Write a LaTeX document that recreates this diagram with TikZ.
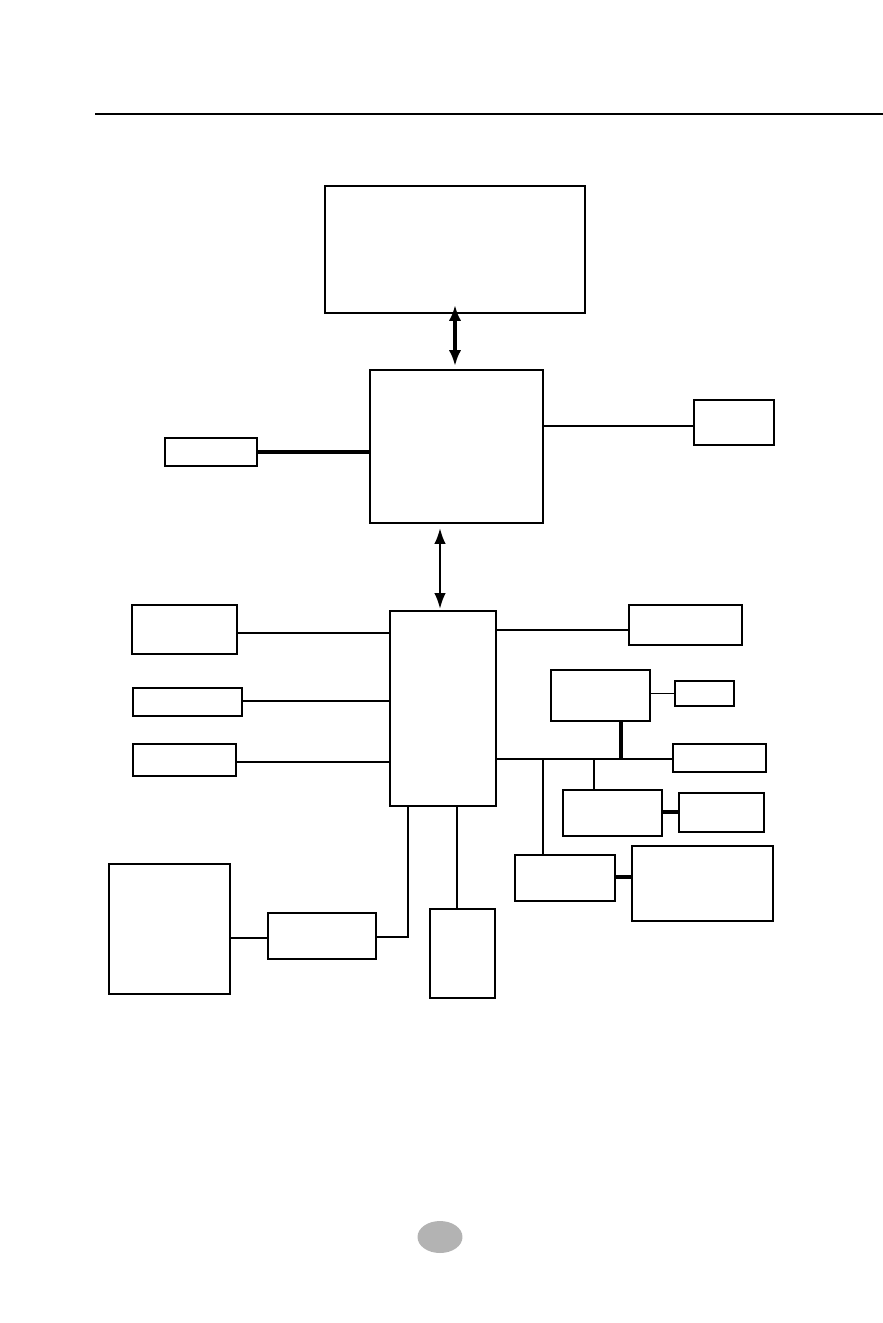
\documentclass[tikz,border=0pt]{standalone}
\usetikzlibrary{arrows.meta,fit,shapes.geometric}
\definecolor{markgrey}{RGB}{179,179,179}
\tikzset{
  box/.style={draw=black, line width=1.6pt, inner sep=0pt, outer sep=0pt},
  wire/.style={draw=black, line width=1.1pt},
  thickwire/.style={draw=black, line width=1.9pt},
  busarrow/.style={draw=black, line width=2pt, {Latex[length=9pt,width=7pt]}-{Latex[length=9pt,width=7pt]}},
  busarrowthin/.style={draw=black, line width=1.3pt, {Latex[length=9pt,width=6.5pt]}-{Latex[length=9pt,width=6.5pt]}}
}
\newcommand{\bx}[5]{\node[box, fit={(#2,#3) (#4,#5)}] (#1) {};}
\begin{document}
\begin{tikzpicture}[x=0.02cm,y=-0.02cm]
\useasboundingbox (0,0) rectangle (883,1323);
\fill[white] (0,0) rectangle (883,1323);
% header rule
\coordinate (ruleL) at (95,114);
\coordinate (ruleR) at (883,114);
\draw[line width=1.4pt] (ruleL) -- (ruleR);
% boxes
\bx{cpu}{325}{186}{585}{313}
\bx{nb}{370}{370}{543}{523}
\bx{nbl}{165}{438}{257}{466}
\bx{nbr}{694}{400}{774}{445}
\bx{sb}{390}{611}{496}{806}
\bx{la}{132}{605}{237}{654}
\bx{lb}{133}{688}{242}{716}
\bx{lc}{133}{744}{236}{776}
\bx{ra}{629}{605}{742}{645}
\bx{rb}{551}{670}{650}{721}
\bx{rbs}{675}{681}{734}{706}
\bx{rc}{673}{744}{766}{772}
\bx{rd}{563}{790}{662}{836}
\bx{rds}{679}{793}{764}{832}
\bx{re}{515}{855}{615}{901}
\bx{rf}{632}{846}{773}{921}
\bx{ba}{268}{913}{376}{959}
\bx{big}{109}{864}{230}{994}
\bx{bb}{430}{909}{495}{998}
% arrows
\coordinate (a1) at (455,305);
\coordinate (a2) at (455,366);
\draw[busarrow] (a1) -- (a2);
\coordinate (b1) at (440,528);
\coordinate (b2) at (440,609);
\draw[busarrowthin] (b1) -- (b2);
% NB connectors
\draw[thickwire] (nbl.east) -- (nbl.east -| nb.west);
\draw[wire] (nb.east |- 0,426) -- (nbr.west |- 0,426);
% SB left
\draw[wire] (la.east |- 0,633) -- (sb.west |- 0,633);
\draw[wire] (lb.east |- 0,701) -- (sb.west |- 0,701);
\draw[wire] (lc.east |- 0,762) -- (sb.west |- 0,762);
% SB right
\draw[wire] (sb.east |- 0,630) -- (ra.west |- 0,630);
\draw[wire] (rb.east |- rbs.west) -- (rbs.west);
\draw[wire] (sb.east |- 0,759) -- (rc.west |- 0,759);
\coordinate (busA) at (621,759);
\coordinate (busB) at (594,759);
\coordinate (busC) at (543,759);
\draw[thickwire] (rb.south -| busA) -- (busA);
\draw[wire] (busB) -- (rd.north -| busB);
\draw[wire] (busC) -- (re.north -| busC);
\draw[thickwire] (rd.east |- 0,812) -- (rds.west |- 0,812);
\draw[thickwire] (re.east |- 0,877) -- (rf.west |- 0,877);
% SB bottom
\coordinate (d1) at (408,937);
\draw[wire] (sb.south -| d1) -- (d1) -- (ba.east |- d1);
\draw[wire] (big.east |- 0,938) -- (ba.west |- 0,938);
\coordinate (d2) at (457,909);
\draw[wire] (sb.south -| d2) -- (bb.north -| d2);
% page marker
\node[ellipse, fill=markgrey, minimum width=0.9cm, minimum height=0.64cm, inner sep=0pt] (pg) at (440,1237) {};
\end{tikzpicture}
\end{document}
